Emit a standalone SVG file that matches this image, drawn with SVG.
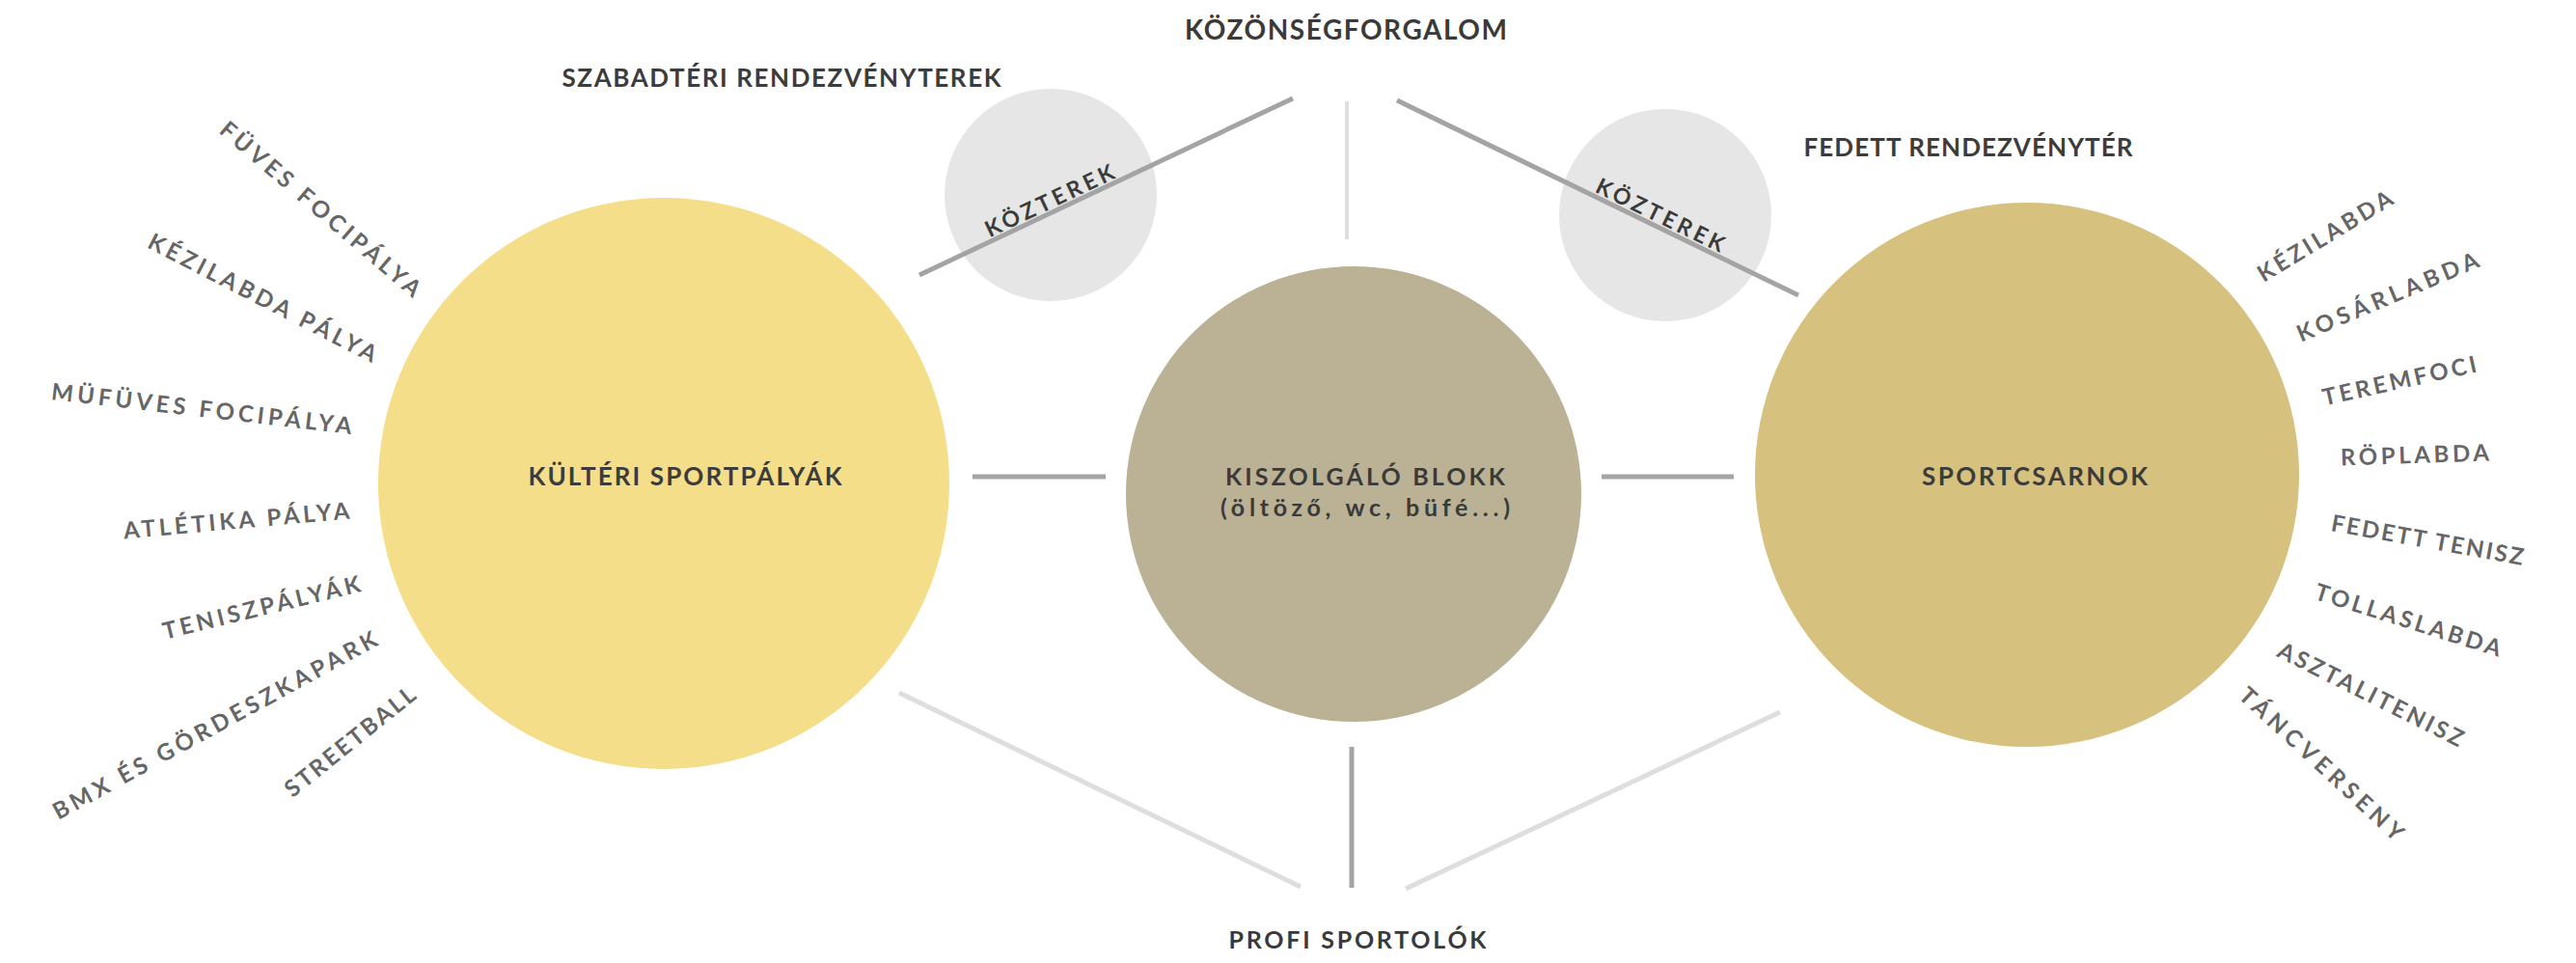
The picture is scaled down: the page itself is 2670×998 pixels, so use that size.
<svg xmlns="http://www.w3.org/2000/svg" width="2670" height="998" viewBox="0 0 2670 998">
<style>
text{font-family:Lato,"Open Sans","DejaVu Sans",sans-serif;text-anchor:middle;}
.lbl{font-size:24px;font-weight:700;fill:#666666;}
.wide{font-size:26px;font-weight:700;fill:#3c3c3c;}
.nar{font-weight:700;fill:#3a3a3a;}
.kz{font-size:23px;font-weight:700;fill:#3b3b3b;}
.med{stroke:#a4a4a4;stroke-width:5;fill:none;}
.lit{stroke:#dedede;stroke-width:5;fill:none;}
.gray{fill:#e6e6e6;}
</style>
<rect width="2670" height="998" fill="#ffffff"/>

<g id="kozterek-left">
  <circle class="gray" cx="1089" cy="202" r="110"/>
</g>
<g id="kozterek-right">
  <circle class="gray" cx="1726" cy="223" r="110"/>
</g>

<g id="connectors">
  <line class="med" x1="953" y1="285" x2="1340" y2="102"/>
  <line class="med" x1="1448" y1="104" x2="1864" y2="306"/>
  <line class="lit" x1="1396" y1="105" x2="1396" y2="248" style="stroke-width:4"/>
  <line class="med" x1="1008" y1="494" x2="1146" y2="494"/>
  <line class="med" x1="1660" y1="494" x2="1797" y2="494"/>
  <line class="med" x1="1401" y1="774" x2="1401" y2="920"/>
  <line class="lit" x1="932" y1="718" x2="1348" y2="919"/>
  <line class="lit" x1="1457" y1="921" x2="1845" y2="738"/>
</g>

<g id="kozterek-left-label">
  <text class="kz" transform="translate(1088,208) rotate(-25.3)" y="8" textLength="145" lengthAdjust="spacing">KÖZTEREK</text>
</g>
<g id="kozterek-right-label">
  <text class="kz" transform="translate(1721,223) rotate(25.9)" y="8" textLength="145" lengthAdjust="spacing">KÖZTEREK</text>
</g>

<g id="kulteri">
  <circle cx="688" cy="501" r="296" fill="#f5de8a"/>
  <text class="wide" x="710" y="503" font-size="27" textLength="325" lengthAdjust="spacing">KÜLTÉRI SPORTPÁLYÁK</text>
</g>

<g id="kiszolgalo">
  <circle cx="1403" cy="512" r="236" fill="#bbb295"/>
  <text class="nar" x="1415" y="503" font-size="25" textLength="290" lengthAdjust="spacing">KISZOLGÁLÓ BLOKK</text>
  <text class="nar" x="1415" y="535" font-size="25" textLength="300" lengthAdjust="spacing">(öltöző, wc, büfé...)</text>
</g>

<g id="sportcsarnok">
  <circle cx="2101" cy="492" r="282" fill="#d6c27e"/>
  <text class="wide" x="2109" y="503" font-size="27" textLength="234" lengthAdjust="spacing">SPORTCSARNOK</text>
</g>

<g id="titles">
  <text class="nar" x="1395" y="41" font-size="28" textLength="334" lengthAdjust="spacing">KÖZÖNSÉGFORGALOM</text>
  <text class="wide" x="810" y="90" font-size="25" textLength="455" lengthAdjust="spacing">SZABADTÉRI RENDEZVÉNYTEREK</text>
  <text class="wide" x="2040" y="162" font-size="26" textLength="341" lengthAdjust="spacing">FEDETT RENDEZVÉNYTÉR</text>
  <text class="nar" x="1407" y="983" font-size="25" textLength="267" lengthAdjust="spacing">PROFI SPORTOLÓK</text>
</g>

<g id="outdoor-labels">
  <text class="lbl" transform="translate(332,217) rotate(40.5)" y="8" textLength="265" lengthAdjust="spacing">FÜVES FOCIPÁLYA</text>
  <text class="lbl" transform="translate(272,309) rotate(27.2)" y="8" textLength="263" lengthAdjust="spacing">KÉZILABDA PÁLYA</text>
  <text class="lbl" transform="translate(209,424) rotate(6.6)" y="8" textLength="313" lengthAdjust="spacing">MÜFÜVES FOCIPÁLYA</text>
  <text class="lbl" transform="translate(245,540) rotate(-5.1)" y="8" textLength="235" lengthAdjust="spacing">ATLÉTIKA PÁLYA</text>
  <text class="lbl" transform="translate(271,630) rotate(-13.7)" y="8" textLength="210" lengthAdjust="spacing">TENISZPÁLYÁK</text>
  <text class="lbl" transform="translate(223,752) rotate(-28.7)" y="8" textLength="379" lengthAdjust="spacing">BMX ÉS GÖRDESZKAPARK</text>
  <text class="lbl" transform="translate(363,769) rotate(-38.8)" y="8" textLength="166" lengthAdjust="spacing">STREETBALL</text>
</g>

<g id="indoor-labels">
  <text class="lbl" transform="translate(2410,245) rotate(-31.2)" y="8" textLength="159" lengthAdjust="spacing">KÉZILABDA</text>
  <text class="lbl" transform="translate(2475,308) rotate(-22.9)" y="8" textLength="202" lengthAdjust="spacing">KOSÁRLABDA</text>
  <text class="lbl" transform="translate(2487,395) rotate(-12.5)" y="8" textLength="163" lengthAdjust="spacing">TEREMFOCI</text>
  <text class="lbl" transform="translate(2503,472) rotate(-1.9)" y="8" textLength="154" lengthAdjust="spacing">RÖPLABDA</text>
  <text class="lbl" transform="translate(2516,560) rotate(10.2)" y="8" textLength="202" lengthAdjust="spacing">FEDETT TENISZ</text>
  <text class="lbl" transform="translate(2496,643) rotate(17.4)" y="8" textLength="201" lengthAdjust="spacing">TOLLASLABDA</text>
  <text class="lbl" transform="translate(2457,720) rotate(26.6)" y="8" textLength="212" lengthAdjust="spacing">ASZTALITENISZ</text>
  <text class="lbl" transform="translate(2406,792) rotate(42.6)" y="8" textLength="222" lengthAdjust="spacing">TÁNCVERSENY</text>
</g>
</svg>
